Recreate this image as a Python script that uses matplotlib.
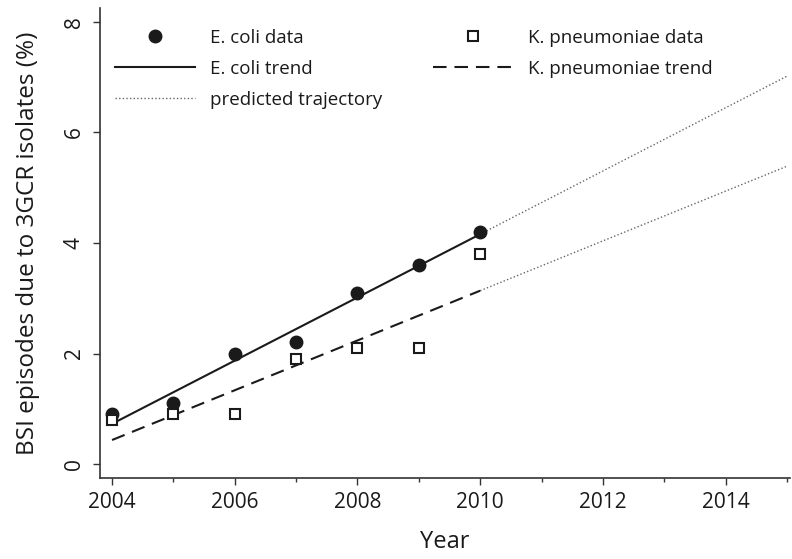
import numpy as np
import matplotlib
matplotlib.use("Agg")
import matplotlib.pyplot as plt
from matplotlib.ticker import MultipleLocator

plt.rcParams["font.family"] = ["Open Sans", "DejaVu Sans"]

years = np.array([2004, 2005, 2006, 2007, 2008, 2009, 2010])
ecoli = np.array([0.9, 1.1, 2.0, 2.2, 3.1, 3.6, 4.2])
kpneu = np.array([0.8, 0.9, 0.9, 1.9, 2.1, 2.1, 3.8])
proj_end = 2015

# linear trends fitted to the observed years, extended to 2015
fit_e = np.polyfit(years, ecoli, 1)
fit_k = np.polyfit(years, kpneu, 1)
obs_x = np.array([years[0], years[-1]])
pred_x = np.array([years[-1], proj_end])

fig = plt.figure(figsize=(7.92, 5.59), dpi=100)
ax = fig.add_axes([0.126, 0.145, 0.8715, 0.841])

ink = "#1a1a1a"
ax.plot(pred_x, np.polyval(fit_e, pred_x), color="#666666", lw=1.0,
        ls=(0, (1, 1.6)), label="predicted trajectory")
ax.plot(pred_x, np.polyval(fit_k, pred_x), color="#666666", lw=1.0, ls=(0, (1, 1.6)))
ax.plot(obs_x, np.polyval(fit_e, obs_x), color=ink, lw=1.5, label="E. coli trend")
ax.plot(obs_x, np.polyval(fit_k, obs_x), color=ink, lw=1.5, ls=(0, (6.5, 3.8)),
        label="K. pneumoniae trend")
ax.plot(years, ecoli, "o", color=ink, ms=9, label="E. coli data", zorder=4)
ax.plot(years, kpneu, "s", mfc="white", mec=ink, mew=1.5, ms=7.5,
        label="K. pneumoniae data", zorder=5)

ax.set_xlim(2003.8, 2015.05)
ax.set_ylim(-0.25, 8.25)
ax.xaxis.set_major_locator(MultipleLocator(2))
ax.xaxis.set_minor_locator(MultipleLocator(1))
ax.yaxis.set_major_locator(MultipleLocator(2))
ax.tick_params(axis="both", which="major", direction="out", length=5, width=1,
               color="#333333", labelsize=15, labelcolor=ink)
ax.tick_params(axis="x", which="minor", direction="out", length=2.8, width=1, color="#333333")
ax.tick_params(axis="x", pad=5)
ax.tick_params(axis="y", pad=6)
for lab in ax.get_yticklabels():
    lab.set_rotation(90)
    lab.set_va("center")

for s in ["top", "right"]:
    ax.spines[s].set_visible(False)
for s in ["left", "bottom"]:
    ax.spines[s].set_color("#333333")
    ax.spines[s].set_linewidth(1.2)

ax.set_xlabel("Year", fontsize=17, color=ink, labelpad=12)
ax.set_ylabel("BSI episodes due to 3GCR isolates (%)", fontsize=17.5, color=ink, labelpad=17)

h, l = ax.get_legend_handles_labels()
order = ["E. coli data", "E. coli trend", "predicted trajectory",
         "K. pneumoniae data", "K. pneumoniae trend"]
hs = [h[l.index(o)] for o in order]
ax.legend(hs, order, ncol=2, frameon=False, fontsize=13.5,
          loc="upper left", bbox_to_anchor=(115 / 792, 1 - 29 / 559),
          bbox_transform=fig.transFigure, borderpad=0, borderaxespad=0,
          handlelength=4.27, handletextpad=0.8, labelspacing=0.69,
          columnspacing=2.72, labelcolor=ink)

fig.savefig("out.png", dpi=100)
